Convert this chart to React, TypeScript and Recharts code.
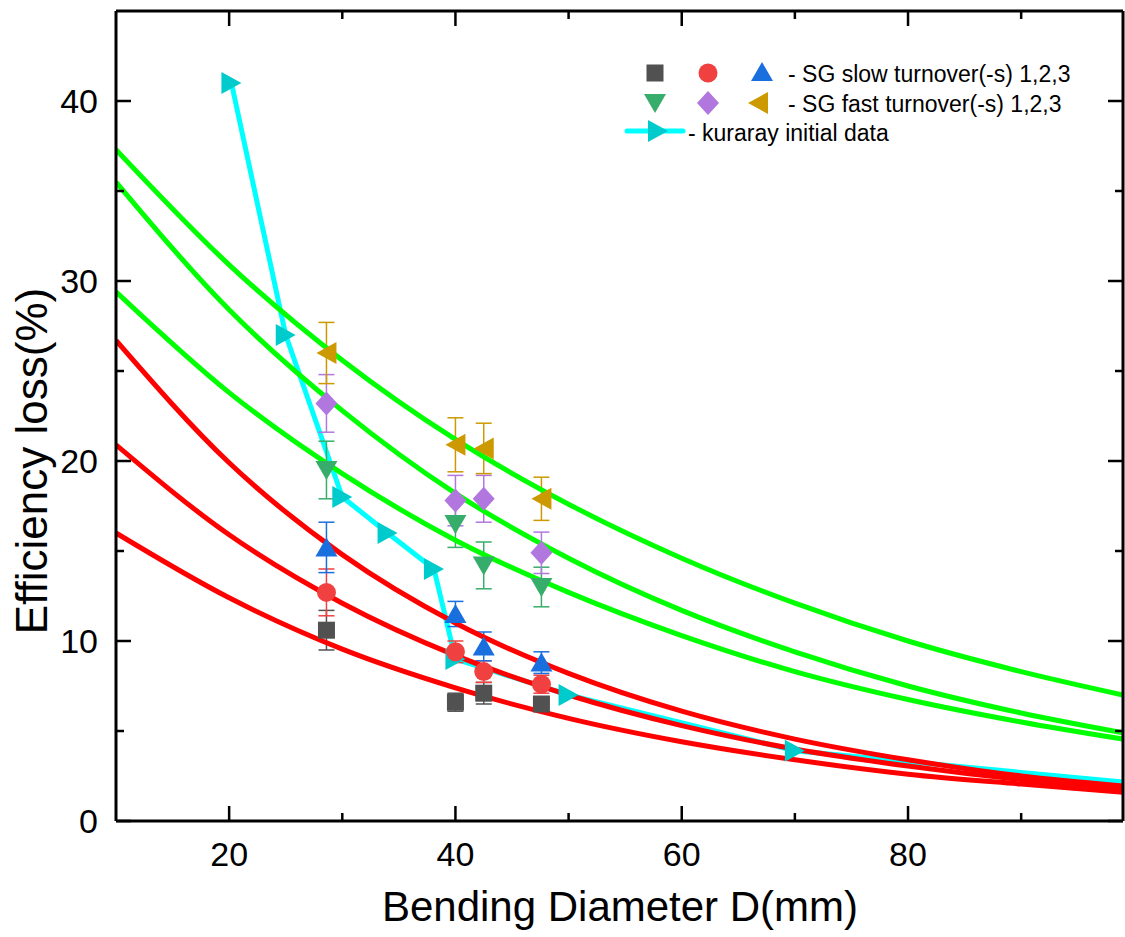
import React from "react"
import { ComposedChart, Line, Scatter, XAxis, YAxis, ErrorBar } from "recharts"

// fitted curves
const curveD = [10, 20, 30, 40, 50, 60, 70, 80, 90, 99]
const greenFit1 = [37.3, 30.9, 25.6, 21.2, 17.6, 14.6, 12.1, 10.0, 8.3, 7.0]
const greenFit2 = [35.5, 28.4, 22.8, 18.2, 14.6, 11.7, 9.4, 7.5, 6.0, 4.9]
const greenFit3 = [29.4, 23.8, 19.3, 15.6, 12.7, 10.3, 8.3, 6.75, 5.5, 4.55]
const redFit1 = [26.7, 19.9, 14.8, 11.0, 8.2, 6.1, 4.55, 3.4, 2.5, 1.95]
const redFit2 = [20.9, 15.9, 12.1, 9.2, 7.0, 5.3, 4.0, 3.05, 2.3, 1.8]
const redFit3 = [16.0, 12.4, 9.55, 7.4, 5.7, 4.4, 3.4, 2.6, 2.05, 1.6]

// measurements
const diameters = [28.6, 40, 42.5, 47.6]
const slow1 = [10.6, 6.6, 7.1, 6.5]
const slow1Err = [1.1, 0.5, 0.6, 0.4]
const slow2 = [12.7, 9.4, 8.3, 7.6]
const slow2Err = [1.3, 0.6, 0.6, 0.5]
const slow3 = [15.2, 11.5, 9.7, 8.8]
const slow3Err = [1.4, 0.7, 0.8, 0.6]
const fast1 = [19.5, 16.5, 14.2, 13.0]
const fast1Err = [1.6, 1.3, 1.3, 1.1]
const fast2 = [23.2, 17.8, 17.9, 14.9]
const fast2Err = [1.6, 1.4, 1.3, 1.15]
const fast3 = [26.0, 20.9, 20.7, 17.9]
const fast3Err = [1.7, 1.5, 1.4, 1.2]

const kurarayD = [20.2, 25, 30, 34, 38.1, 40, 50, 70, 100]
const kurarayLoss = [41, 27, 18, 16, 14, 9, 7, 3.9, 2.1]

const xTicks = [20, 30, 40, 50, 60, 70, 80, 90]
const yTicks = [0, 5, 10, 15, 20, 25, 30, 35, 40]

const FONT = "'Liberation Sans', Arial, sans-serif"

const toLine = (ys: number[]) => curveD.map((x, i) => ({ x, y: ys[i] }))
const toPts = (ys: number[], errs: number[]) =>
  diameters.map((x, i) => ({ x, y: ys[i], e: errs[i] }))

type Kind = "square" | "circle" | "up" | "down" | "diamond" | "left" | "right"

function Marker({ kind, cx, cy, fill }: { kind: Kind; cx: number; cy: number; fill: string }) {
  switch (kind) {
    case "square":
      return <rect x={cx - 8.5} y={cy - 8.5} width={17} height={17} fill={fill} />
    case "circle":
      return <circle cx={cx} cy={cy} r={9.5} fill={fill} />
    case "up":
      return <polygon points={`${cx},${cy - 10} ${cx + 11},${cy + 9} ${cx - 11},${cy + 9}`} fill={fill} />
    case "down":
      return <polygon points={`${cx},${cy + 10} ${cx + 11},${cy - 9} ${cx - 11},${cy - 9}`} fill={fill} />
    case "diamond":
      return <polygon points={`${cx},${cy - 12} ${cx + 11},${cy} ${cx},${cy + 12} ${cx - 11},${cy}`} fill={fill} />
    case "left":
      return <polygon points={`${cx - 10},${cy} ${cx + 10},${cy - 11} ${cx + 10},${cy + 11}`} fill={fill} />
    default:
      return <polygon points={`${cx + 10},${cy} ${cx - 10},${cy - 11} ${cx - 10},${cy + 11}`} fill={fill} />
  }
}

const markerShape = (kind: Kind, fill: string) => (p: any) =>
  <Marker kind={kind} cx={p.cx} cy={p.cy} fill={fill} />

const BottomTick = (p: any) => {
  const major = p.payload.value % 20 === 0
  return (
    <g>
      <line x1={p.x} x2={p.x} y1={p.y} y2={p.y - (major ? 15 : 8)} stroke="#000" strokeWidth={2.5} />
      {major && (
        <text x={p.x} y={p.y + 33} textAnchor="middle" dominantBaseline="central" fontSize={34} fontFamily={FONT} fill="#000">
          {p.payload.value}
        </text>
      )}
    </g>
  )
}

const TopTick = (p: any) => {
  const major = p.payload.value % 20 === 0
  return <line x1={p.x} x2={p.x} y1={p.y} y2={p.y + (major ? 15 : 8)} stroke="#000" strokeWidth={2.5} />
}

const LeftTick = (p: any) => {
  const major = p.payload.value % 10 === 0
  return (
    <g>
      <line x1={p.x} x2={p.x + (major ? 15 : 8)} y1={p.y} y2={p.y} stroke="#000" strokeWidth={2.5} />
      {major && (
        <text x={p.x - 18} y={p.y} textAnchor="end" dominantBaseline="central" fontSize={34} fontFamily={FONT} fill="#000">
          {p.payload.value}
        </text>
      )}
    </g>
  )
}

const RightTick = (p: any) => {
  const major = p.payload.value % 10 === 0
  return <line x1={p.x} x2={p.x - (major ? 15 : 8)} y1={p.y} y2={p.y} stroke="#000" strokeWidth={2.5} />
}

const axisLine = { stroke: "#000", strokeWidth: 3 }

const series: { kind: Kind; color: string; ys: number[]; errs: number[] }[] = [
  { kind: "square", color: "#515151", ys: slow1, errs: slow1Err },
  { kind: "circle", color: "#F14040", ys: slow2, errs: slow2Err },
  { kind: "up", color: "#1A6FDF", ys: slow3, errs: slow3Err },
  { kind: "down", color: "#37AD6B", ys: fast1, errs: fast1Err },
  { kind: "diamond", color: "#B177DE", ys: fast2, errs: fast2Err },
  { kind: "left", color: "#CC9900", ys: fast3, errs: fast3Err },
]

export default function App() {
  const kuraray = kurarayD.map((x, i) => ({ x, y: kurarayLoss[i] }))
  return (
    <div style={{ position: "absolute", left: 0, top: 0, width: 1125, height: 937, background: "#fff" }}>
      <ComposedChart width={1125} height={937} margin={{ top: 10, right: 1, bottom: 0, left: 0 }}>
        <XAxis type="number" dataKey="x" domain={[10, 99]} allowDataOverflow ticks={xTicks} interval={0}
          height={116} tickSize={0} tickMargin={0} tickLine={false} axisLine={axisLine} tick={BottomTick} />
        <XAxis xAxisId="top" orientation="top" type="number" dataKey="x" domain={[10, 99]} allowDataOverflow
          ticks={xTicks} interval={0} height={1} tickSize={0} tickMargin={0} tickLine={false} axisLine={axisLine} tick={TopTick} />
        <YAxis type="number" dataKey="y" domain={[0, 45]} allowDataOverflow ticks={yTicks} interval={0}
          width={116} tickSize={0} tickMargin={0} tickLine={false} axisLine={axisLine} tick={LeftTick} />
        <YAxis yAxisId="right" orientation="right" type="number" dataKey="y" domain={[0, 45]} allowDataOverflow
          ticks={yTicks} interval={0} width={1} tickSize={0} tickMargin={0} tickLine={false} axisLine={axisLine} tick={RightTick} />

        {/* kuraray series sits on the twin (top/right) axes, which share the same domains */}
        <Line data={kuraray} dataKey="y" xAxisId="top" yAxisId="right" type="linear" stroke="#00FFFF" strokeWidth={5}
          isAnimationActive={false} activeDot={false}
          dot={(p: any) => <Marker key={p.index} kind="right" cx={p.cx} cy={p.cy} fill="#00CBCC" />} />

        {series.map((s, i) => (
          <Scatter key={i} data={toPts(s.ys, s.errs)} dataKey="y" fill={s.color} isAnimationActive={false}
            shape={markerShape(s.kind, s.color)}>
            <ErrorBar dataKey="e" direction="y" width={8} strokeWidth={1.5} stroke={s.color} isAnimationActive={false} />
          </Scatter>
        ))}

        {[greenFit1, greenFit2, greenFit3].map((ys, i) => (
          <Line key={`g${i}`} data={toLine(ys)} dataKey="y" type="monotone" stroke="#00FF00" strokeWidth={5}
            dot={false} activeDot={false} isAnimationActive={false} />
        ))}
        {[redFit1, redFit2, redFit3].map((ys, i) => (
          <Line key={`r${i}`} data={toLine(ys)} dataKey="y" type="monotone" stroke="#FF0000" strokeWidth={5}
            dot={false} activeDot={false} isAnimationActive={false} />
        ))}
      </ComposedChart>

      <svg width={1125} height={937} style={{ position: "absolute", left: 0, top: 0, pointerEvents: "none" }}>
        <g fontFamily={FONT} fontSize={23} fill="#000">
          <Marker kind="square" cx={655} cy={73} fill="#515151" />
          <Marker kind="circle" cx={708} cy={73} fill="#F14040" />
          <Marker kind="up" cx={762} cy={72} fill="#1A6FDF" />
          <text x={788} y={74} dominantBaseline="central">- SG slow turnover(-s) 1,2,3</text>
          <Marker kind="down" cx={655} cy={103} fill="#37AD6B" />
          <Marker kind="diamond" cx={708} cy={103} fill="#B177DE" />
          <Marker kind="left" cx={758} cy={103} fill="#CC9900" />
          <text x={788} y={104} dominantBaseline="central">- SG fast turnover(-s) 1,2,3</text>
          <line x1={627} x2={683} y1={131} y2={131} stroke="#00FFFF" strokeWidth={5} strokeLinecap="round" />
          <Marker kind="right" cx={658} cy={131} fill="#00CBCC" />
          <text x={688} y={133} dominantBaseline="central">- kuraray initial data</text>
        </g>
        <text x={620} y={906} textAnchor="middle" dominantBaseline="central" fontFamily={FONT} fontSize={42} fill="#000">
          Bending Diameter D(mm)
        </text>
        <text transform="translate(31,461) rotate(-90)" textAnchor="middle" dominantBaseline="central"
          fontFamily={FONT} fontSize={44} fill="#000">
          Efficiency loss(%)
        </text>
      </svg>
    </div>
  )
}
